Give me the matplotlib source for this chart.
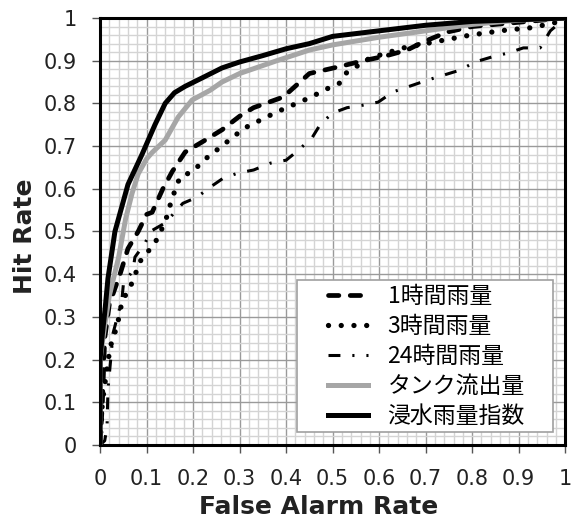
import matplotlib
matplotlib.use("Agg")
import matplotlib.pyplot as plt
from matplotlib.patches import Rectangle
from matplotlib.ticker import MultipleLocator

plt.rcParams["font.family"] = ["DejaVu Sans"]

# ROC curves (false alarm rate, hit rate) for each index
far_1h = [0, 0.005, 0.01, 0.02, 0.043, 0.06, 0.082, 0.1, 0.112, 0.135, 0.155,
          0.183, 0.22, 0.262, 0.3, 0.33, 0.394, 0.45, 0.51, 0.566, 0.61, 0.66,
          0.695, 0.746, 0.8, 0.9, 1]
hit_1h = [0, 0.1, 0.25, 0.33, 0.40, 0.46, 0.5, 0.54, 0.545, 0.6, 0.64,
          0.686, 0.71, 0.738, 0.77, 0.79, 0.815, 0.87, 0.885, 0.9, 0.91, 0.925,
          0.944, 0.967, 0.98, 0.99, 1]

far_3h = [0, 0.005, 0.015, 0.022, 0.037, 0.047, 0.069, 0.086, 0.118, 0.14,
          0.155, 0.172, 0.198, 0.232, 0.25, 0.31, 0.38, 0.45, 0.495, 0.516,
          0.53, 0.58, 0.652, 0.724, 0.796, 0.875, 0.925, 0.975, 1]
hit_3h = [0, 0.1, 0.18, 0.23, 0.28, 0.335, 0.38, 0.43, 0.473, 0.522,
          0.578, 0.628, 0.64, 0.675, 0.69, 0.742, 0.78, 0.813, 0.838, 0.848,
          0.872, 0.906, 0.93, 0.945, 0.96, 0.972, 0.977, 0.988, 1]

far_24h = [0, 0.01, 0.015, 0.017, 0.028, 0.047, 0.05, 0.071, 0.075, 0.097,
           0.108, 0.14, 0.178, 0.208, 0.237, 0.265, 0.297, 0.33, 0.366, 0.4,
           0.426, 0.456, 0.473, 0.499, 0.531, 0.566, 0.598, 0.63, 0.673, 0.705,
           0.738, 0.774, 0.806, 0.843, 0.877, 0.91, 0.946, 0.968, 1]
hit_24h = [0, 0.01, 0.042, 0.13, 0.262, 0.34, 0.375, 0.41, 0.44, 0.473,
           0.5, 0.52, 0.566, 0.58, 0.604, 0.625, 0.637, 0.644, 0.66, 0.667,
           0.69, 0.72, 0.75, 0.777, 0.79, 0.796, 0.803, 0.827, 0.843, 0.855,
           0.866, 0.878, 0.897, 0.909, 0.918, 0.93, 0.93, 0.97, 1]

far_tank = [0, 0.0, 0.01, 0.02, 0.04, 0.055, 0.069, 0.082, 0.1, 0.112, 0.14,
            0.168, 0.198, 0.237, 0.262, 0.3, 0.38, 0.45, 0.5, 0.6, 0.7, 0.8,
            0.9, 1]
hit_tank = [0, 0.2, 0.28, 0.35, 0.44, 0.53, 0.59, 0.635, 0.67, 0.685, 0.714,
            0.768, 0.808, 0.831, 0.85, 0.87, 0.9, 0.925, 0.937, 0.955, 0.97,
            0.985, 0.995, 1]

far_flood = [0, 0.0, 0.005, 0.011, 0.017, 0.032, 0.06, 0.09, 0.118, 0.14,
             0.16, 0.183, 0.22, 0.262, 0.3, 0.35, 0.4, 0.45, 0.5, 0.6, 0.7,
             0.8, 0.9, 1]
hit_flood = [0, 0.2, 0.26, 0.32, 0.39, 0.5, 0.61, 0.68, 0.75, 0.8,
             0.825, 0.84, 0.86, 0.883, 0.897, 0.912, 0.928, 0.94, 0.957, 0.97,
             0.983, 0.992, 0.996, 1]

labels = ["1時間雨量", "3時間雨量", "24時間雨量", "タンク流出量", "浸水雨量指数"]

fig = plt.figure(figsize=(5.75, 5.19), dpi=100)
ax = fig.add_axes([0.174, 0.1426, 0.809, 0.8227])

ax.plot(far_1h, hit_1h, color="black", linewidth=3.4,
        dashes=(2.2, 2.4), dash_capstyle="round", label=labels[0], zorder=3)
ax.plot(far_3h, hit_3h, color="black", linewidth=3.8,
        dashes=(0.01, 2.4), dash_capstyle="round", label=labels[1], zorder=3)
ax.plot(far_24h, hit_24h, color="black", linewidth=2.2,
        dashes=(3.9, 3.9, 0.7, 3.9), label=labels[2], zorder=3)
ax.plot(far_tank, hit_tank, color="#a6a6a6", linewidth=3.6,
        label=labels[3], zorder=3)
ax.plot(far_flood, hit_flood, color="black", linewidth=3.6,
        label=labels[4], zorder=4)

ax.set_xlim(0, 1)
ax.set_ylim(0, 1)
ax.xaxis.set_major_locator(MultipleLocator(0.1))
ax.yaxis.set_major_locator(MultipleLocator(0.1))
ax.xaxis.set_minor_locator(MultipleLocator(0.02))
ax.yaxis.set_minor_locator(MultipleLocator(0.02))
ax.xaxis.set_major_formatter(lambda v, p: f"{v:g}")
ax.yaxis.set_major_formatter(lambda v, p: f"{v:g}")

ax.grid(which="minor", color="#d4d4d4", linewidth=1.0)
ax.grid(which="major", color="#9a9a9a", linewidth=1.0)
ax.set_axisbelow(True)

ax.tick_params(which="major", direction="out", length=6, width=1,
               color="#555555", labelsize=15, pad=11, labelcolor="#222222")
ax.tick_params(which="minor", length=0)

for side in ax.spines.values():
    side.set_linewidth(2.2)
    side.set_color("black")

ax.set_xlabel("False Alarm Rate", fontsize=18, fontweight="bold",
              color="#222222")
ax.set_ylabel("Hit Rate", fontsize=18, fontweight="bold",
              color="#222222")
ax.xaxis.set_label_coords(0.47, -0.117)
ax.yaxis.set_label_coords(-0.136, 0.49)

# legend box drawn separately so the padding can be wider than tall
ax.add_patch(Rectangle((0.424, 0.03), 0.55, 0.356, transform=ax.transAxes,
                       facecolor="white", edgecolor="#a0a0a0",
                       linewidth=1.2, zorder=5))
leg = ax.legend(loc="upper left", bbox_to_anchor=(0.49, 0.374),
                frameon=False, borderpad=0, borderaxespad=0,
                handlelength=1.75, handletextpad=0.85, labelspacing=0.3,
                prop={"family": ["Noto Sans CJK JP", "DejaVu Sans"],
                      "size": 16.5})
leg.set_zorder(6)

fig.savefig("out.png", dpi=100)
